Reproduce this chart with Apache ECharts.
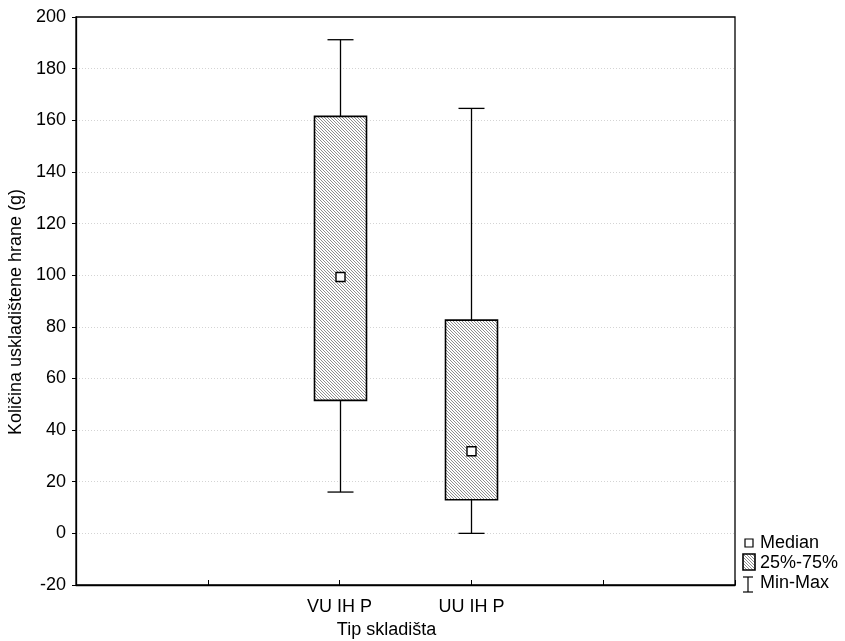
<!DOCTYPE html>
<html>
<head>
<meta charset="utf-8">
<script src="https://cdn.jsdelivr.net/npm/echarts@6/dist/echarts.min.js"></script>
<style>
  html, body { margin: 0; padding: 0; background: #fff; }
  #chart { width: 845px; height: 641px; }
</style>
</head>
<body>
<div id="chart"></div>
<script>
// ---- data ----
var categories = ["", "", "VU IH P", "UU IH P", "", ""];
var groups = ["VU IH P", "UU IH P"];
var minValues = [16, 0];
var q1Values = [51.5, 13];
var medianValues = [99.3, 31.8];
var q3Values = [161.5, 82.6];
var maxValues = [191.2, 164.6];
var yTicks = { min: -20, max: 200, interval: 20 };
var legendLabels = ["Median", "25%-75%", "Min-Max"];

var FONT = '"Liberation Sans", Arial, sans-serif';
var FS = 18;

// hatch pattern
function makeHatch() {
  var c = document.createElement('canvas');
  c.width = 3; c.height = 3;
  var ctx = c.getContext('2d');
  ctx.fillStyle = '#ffffff';
  ctx.fillRect(0, 0, 3, 3);
  ctx.fillStyle = '#8f8f8f';
  for (var i = 0; i < 3; i++) {
    ctx.fillRect(i, i, 1, 1);
  }
  return c;
}
var hatch = makeHatch();

var boxData = groups.map(function (g, i) {
  return [g, minValues[i], q1Values[i], medianValues[i], q3Values[i], maxValues[i]];
});

var chart = echarts.init(document.getElementById('chart'), null, { renderer: 'canvas' });

var option = {
  animation: false,
  backgroundColor: '#ffffff',
  textStyle: { fontFamily: FONT },
  grid: { left: 76, top: 17, right: 110, bottom: 56, show: true, borderColor: '#000', borderWidth: 1.3, backgroundColor: 'transparent', containLabel: false, outerBoundsMode: 'none' },
  xAxis: {
    type: 'category',
    data: categories,
    boundaryGap: false,
    name: 'Tip skladišta',
    nameLocation: 'middle',
    nameGap: 35,
    nameTextStyle: { fontSize: FS, color: '#000', fontFamily: FONT, padding: [0, 38, 0, 0] },
    axisLine: { show: true, onZero: false, lineStyle: { color: '#000', width: 1.3 } },
    axisTick: { show: true, inside: true, length: 5, interval: 0, lineStyle: { color: '#000' } },
    axisLabel: { interval: 0, margin: 13, fontSize: FS, color: '#000', fontFamily: FONT },
    splitLine: { show: false }
  },
  yAxis: {
    type: 'value',
    min: yTicks.min,
    max: yTicks.max,
    interval: yTicks.interval,
    name: 'Količina uskladištene hrane (g)',
    nameLocation: 'middle',
    nameGap: 50,
    nameTextStyle: { fontSize: FS, color: '#000', fontFamily: FONT, padding: [0, 22, 0, 0] },
    axisLine: { show: true, lineStyle: { color: '#000', width: 1.3 } },
    axisTick: { show: true, inside: false, length: 4, lineStyle: { color: '#000' } },
    axisLabel: { margin: 10, fontSize: FS, color: '#000', fontFamily: FONT },
    splitLine: { show: true, showMinLine: false, showMaxLine: false, lineStyle: { color: '#d4d4d4', type: [1, 2], width: 1 } }
  },
  series: [{
    type: 'custom',
    data: boxData,
    encode: { x: 0, y: [1, 2, 3, 4, 5] },
    renderItem: function (params, api) {
      var x = api.value(0);
      var pMin = api.coord([x, api.value(1)]);
      var pQ1 = api.coord([x, api.value(2)]);
      var pMed = api.coord([x, api.value(3)]);
      var pQ3 = api.coord([x, api.value(4)]);
      var pMax = api.coord([x, api.value(5)]);
      var cx = Math.round(pMin[0]) + 0.5;
      var bw = 52, cw = 26, ms = 9;
      var stroke = { stroke: '#000', lineWidth: 1.3, fill: null };
      return {
        type: 'group',
        children: [
          { type: 'line', shape: { x1: cx, y1: pMax[1], x2: cx, y2: pQ3[1] }, style: stroke },
          { type: 'line', shape: { x1: cx, y1: pQ1[1], x2: cx, y2: pMin[1] }, style: stroke },
          { type: 'line', shape: { x1: cx - cw / 2, y1: pMax[1], x2: cx + cw / 2, y2: pMax[1] }, style: stroke },
          { type: 'line', shape: { x1: cx - cw / 2, y1: pMin[1], x2: cx + cw / 2, y2: pMin[1] }, style: stroke },
          { type: 'rect', shape: { x: cx - bw / 2, y: pQ3[1], width: bw, height: pQ1[1] - pQ3[1] },
            style: { fill: { image: hatch, repeat: 'repeat' }, stroke: '#000', lineWidth: 1.6 } },
          { type: 'rect', shape: { x: cx - ms / 2, y: pMed[1] - ms / 2, width: ms, height: ms },
            style: { fill: '#fff', stroke: '#000', lineWidth: 1.4 } }
        ]
      };
    }
  }],
  graphic: [
    { type: 'rect', shape: { x: 745, y: 539, width: 8, height: 8 }, style: { fill: '#fff', stroke: '#000', lineWidth: 1.2 } },
    { type: 'text', left: 760, top: 534, style: { text: legendLabels[0], font: FS + 'px ' + FONT, fill: '#000' } },
    { type: 'rect', shape: { x: 743, y: 554, width: 12, height: 16 }, style: { fill: { image: hatch, repeat: 'repeat' }, stroke: '#000', lineWidth: 1.6 } },
    { type: 'text', left: 760, top: 554, style: { text: legendLabels[1], font: FS + 'px ' + FONT, fill: '#000' } },
    { type: 'line', shape: { x1: 748, y1: 577, x2: 748, y2: 592 }, style: { stroke: '#000', lineWidth: 1.2 } },
    { type: 'line', shape: { x1: 743, y1: 577, x2: 753, y2: 577 }, style: { stroke: '#000', lineWidth: 1.2 } },
    { type: 'line', shape: { x1: 743, y1: 592, x2: 753, y2: 592 }, style: { stroke: '#000', lineWidth: 1.2 } },
    { type: 'text', left: 760, top: 574, style: { text: legendLabels[2], font: FS + 'px ' + FONT, fill: '#000' } }
  ]
};
chart.setOption(option);
</script>
</body>
</html>
